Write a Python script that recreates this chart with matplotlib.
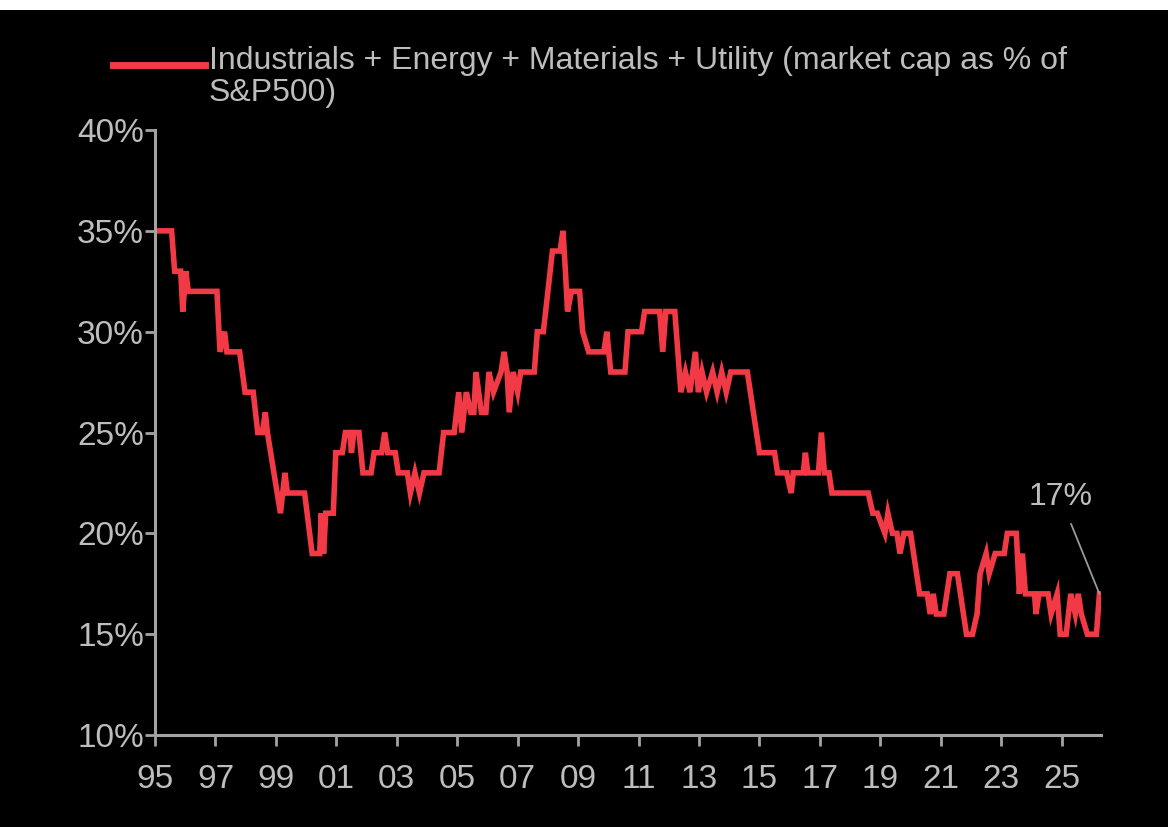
import matplotlib
matplotlib.use("Agg")
import matplotlib.pyplot as plt
from matplotlib.lines import Line2D
from matplotlib.patches import Rectangle

# series: (year, % of S&P500) at each visible vertex
years = [1995.00, 1995.55, 1995.65, 1995.85, 1995.92, 1996.02, 1996.10, 1997.05, 1997.15, 1997.30,
         1997.38, 1997.80, 1997.98, 1998.25, 1998.40, 1998.55, 1998.65, 1998.72, 1999.15, 1999.30,
         1999.38, 1999.95, 2000.20, 2000.45, 2000.50, 2000.58, 2000.65, 2000.90, 2000.98, 2001.20,
         2001.30, 2001.45, 2001.50, 2001.58, 2001.75, 2001.88, 2002.15, 2002.25, 2002.50, 2002.60,
         2002.70, 2002.95, 2003.05, 2003.35, 2003.45, 2003.60, 2003.75, 2003.90, 2004.40, 2004.55,
         2004.90, 2005.05, 2005.15, 2005.30, 2005.45, 2005.55, 2005.62, 2005.80, 2005.95, 2006.05,
         2006.20, 2006.45, 2006.55, 2006.65, 2006.72, 2006.85, 2007.00, 2007.10, 2007.55, 2007.65,
         2007.85, 2008.00, 2008.15, 2008.40, 2008.50, 2008.58, 2008.65, 2008.78, 2009.05, 2009.15,
         2009.35, 2009.85, 2009.95, 2010.08, 2010.55, 2010.65, 2011.10, 2011.20, 2011.70, 2011.80,
         2011.90, 2012.20, 2012.40, 2012.55, 2012.70, 2012.88, 2012.98, 2013.10, 2013.25, 2013.45,
         2013.60, 2013.75, 2013.90, 2014.05, 2014.60, 2014.70, 2015.00, 2015.50, 2015.60, 2015.90,
         2016.05, 2016.12, 2016.45, 2016.52, 2016.60, 2016.95, 2017.05, 2017.15, 2017.30, 2017.40,
         2018.60, 2018.75, 2018.90, 2019.15, 2019.25, 2019.40, 2019.55, 2019.65, 2019.78, 2020.00,
         2020.10, 2020.30, 2020.55, 2020.65, 2020.75, 2020.85, 2021.10, 2021.30, 2021.55, 2021.65,
         2021.85, 2022.05, 2022.20, 2022.30, 2022.50, 2022.60, 2022.80, 2023.10, 2023.20, 2023.50,
         2023.60, 2023.70, 2023.80, 2024.10, 2024.15, 2024.25, 2024.55, 2024.65, 2024.85, 2024.95,
         2025.15, 2025.30, 2025.45, 2025.55, 2025.65, 2025.85, 2026.15, 2026.25]
share = [35, 35, 33, 33, 31, 33, 32, 32, 29, 30,
         29, 29, 27, 27, 25, 25, 26, 25, 21, 23,
         22, 22, 19, 19, 21, 19, 21, 21, 24, 24,
         25, 25, 24, 25, 25, 23, 23, 24, 24, 25,
         24, 24, 23, 23, 22, 23, 22, 23, 23, 25,
         25, 27, 25, 27, 26, 26, 28, 26, 26, 28,
         27, 28, 29, 28, 26, 28, 27, 28, 28, 30,
         30, 32, 34, 34, 35, 33, 31, 32, 32, 30,
         29, 29, 30, 28, 28, 30, 30, 31, 31, 29,
         31, 31, 27, 28, 27, 29, 27, 28, 27, 28,
         27, 28, 27, 28, 28, 27, 24, 24, 23, 23,
         22, 23, 23, 24, 23, 23, 25, 23, 23, 22,
         22, 21, 21, 20, 21, 20, 20, 19, 20, 20,
         19, 17, 17, 16, 17, 16, 16, 18, 18, 17,
         15, 15, 16, 18, 19, 18, 19, 19, 20, 20,
         17, 19, 17, 17, 16, 17, 17, 16, 17, 15,
         15, 17, 16, 17, 16, 15, 15, 17]

tick_years = list(range(1995, 2026, 2))
tick_labels = ["%02d" % (y % 100) for y in tick_years]
y_ticks = [10, 15, 20, 25, 30, 35, 40]
legend_label = "Industrials + Energy + Materials + Utility (market cap as % of\nS&P500)"
last_label = "17%"

red = "#f23a46"
grey = "#bdbdbd"
axis_grey = "#a3a3a3"
plt.rcParams["font.family"] = ["Liberation Sans", "DejaVu Sans"]

fig = plt.figure(figsize=(11.68, 8.27), dpi=100, facecolor="black")
fig.patches.append(Rectangle((0, 1 - 10 / 827), 1, 10 / 827, transform=fig.transFigure,
                             facecolor="white", edgecolor="none"))
ax = fig.add_axes([0.1327, 0.1112, 0.8099, 0.7316])
ax.set_facecolor("black")

ax.plot(years, share, color=red, lw=4.0, solid_joinstyle="miter")

ax.set_xlim(1995, 2026.3)
ax.set_ylim(10, 40)
ax.set_xticks(tick_years)
ax.set_xticklabels(tick_labels)
ax.set_yticks(y_ticks)
ax.set_yticklabels(["%d%%" % v for v in y_ticks])

for side in ["top", "right"]:
    ax.spines[side].set_visible(False)
for side in ["left", "bottom"]:
    ax.spines[side].set_color(axis_grey)
    ax.spines[side].set_linewidth(2.2)
ax.tick_params(axis="both", colors=axis_grey, width=2, labelcolor=grey, labelsize=24)
ax.tick_params(axis="x", length=8, pad=13)
ax.tick_params(axis="y", length=7, pad=1)

# callout on the last value
ax.annotate(last_label, xy=(years[-1], share[-1]), xytext=(2024.95, 21.8),
            color=grey, fontsize=23, ha="center", va="center",
            arrowprops=dict(arrowstyle="-", color="#9a9a9a", lw=1.3, shrinkA=7, shrinkB=0))

# legend drawn by hand so the swatch sits on the first text line
fig.add_artist(Line2D([113 / 1168, 205 / 1168], [1 - 65 / 827, 1 - 65 / 827],
                      transform=fig.transFigure, color=red, lw=5))
fig.text(209 / 1168, 1 - 46 / 827, legend_label, color=grey, fontsize=23,
         ha="left", va="top", linespacing=1.1)

fig.savefig("out.png", dpi=100, facecolor="black")
